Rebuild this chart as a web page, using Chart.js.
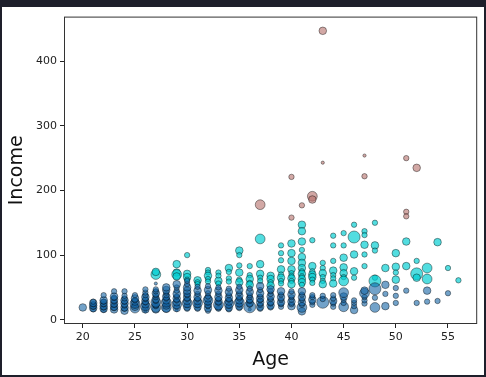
<!DOCTYPE html>
<html>
<head>
<meta charset="utf-8">
<script src="https://cdn.jsdelivr.net/npm/chart.js@4.4.1/dist/chart.umd.min.js"></script>
<style>
  html, body { margin: 0; padding: 0; background: #1e1f2b; }
  .frame { position: absolute; left: 2px; top: 7px; width: 482px; height: 368px; background: #fff; }
</style>
</head>
<body>
<div class="frame"><canvas id="chart" width="482" height="368"></canvas></div>
<script>
const ageTicks = [20, 25, 30, 35, 40, 45, 50, 55];
const incomeTicks = [0, 100, 200, 300, 400];

// each point: [age, income, edu]
const lowIncome = [
  [20,19,3],
  [21,16,2],[21,18,3],[21,20,2],[21,22,3],[21,24,2],[21,26,3],[21,28,2],
  [22,15,2],[22,17,3],[22,19,2],[22,21,3],[22,24,2],[22,26,3],[22,28,2],[22,30,3],[22,38,2],
  [23,16,3],[23,18,2],[23,20,3],[23,23,2],[23,25,3],[23,28,2],[23,31,3],[23,34,2],[23,36,3],[23,44,2],
  [24,14,3],[24,17,2],[24,19,3],[24,22,2],[24,25,3],[24,28,2],[24,30,3],[24,33,2],[24,37,2],[24,44,2],
  [25,18,4],[25,20,3],[25,23,2],[25,25,4],[25,28,3],[25,30,2],[25,33,3],[25,38,2],
  [26,13,1],[26,16,3],[26,19,2],[26,21,4],[26,24,3],[26,27,2],[26,29,3],[26,32,2],[26,35,3],[26,38,2],[26,42,2],[26,47,2],
  [27,16,3],[27,19,4],[27,21,2],[27,24,3],[27,27,4],[27,29,2],[27,32,3],[27,35,2],[27,38,2],[27,41,3],[27,44,2],[27,47,2],[27,56,1],
  [28,17,3],[28,19,4],[28,22,3],[28,25,2],[28,27,4],[28,30,3],[28,33,2],[28,36,3],[28,38,2],[28,42,2],[28,46,3],[28,50,3],
  [29,15,1],[29,18,3],[29,21,2],[29,24,4],[29,27,3],[29,30,2],[29,33,3],[29,36,2],[29,40,3],[29,45,2],[29,50,2],[29,55,3],
  [30,17,2],[30,20,3],[30,23,2],[30,26,4],[30,29,3],[30,32,2],[30,35,3],[30,38,2],[30,41,3],[30,45,3],[30,50,3],[30,55,2],[30,60,2],
  [31,17,2],[31,20,3],[31,23,2],[31,26,4],[31,29,3],[31,32,2],[31,35,3],[31,40,2],[31,45,3],[31,51,2],
  [32,14,2],[32,18,3],[32,21,2],[32,24,3],[32,27,2],[32,30,4],[32,33,3],[32,36,2],[32,41,2],[32,46,3],[32,52,2],
  [33,17,2],[33,20,3],[33,23,4],[33,26,2],[33,29,3],[33,32,2],[33,35,3],[33,40,2],[33,45,3],[33,50,2],
  [34,16,2],[34,19,3],[34,22,2],[34,25,4],[34,28,3],[34,31,2],[34,34,3],[34,38,2],[34,43,3],[34,48,2],
  [35,18,2],[35,21,3],[35,24,2],[35,27,4],[35,30,3],[35,33,2],[35,37,3],[35,41,2],[35,46,3],[35,51,2],
  [36,16,1],[36,20,5],[36,23,2],[36,26,3],[36,29,2],[36,32,3],[36,35,2],[36,38,2],[36,43,3],[36,48,2],
  [37,17,2],[37,20,3],[37,23,2],[37,27,3],[37,30,2],[37,33,3],[37,36,2],[37,41,3],[37,46,2],[37,52,3],
  [38,19,2],[38,22,3],[38,25,2],[38,28,3],[38,32,2],[38,36,3],[38,40,2],[38,44,2],[38,47,3],
  [39,20,2],[39,24,2],[39,27,3],[39,31,2],[39,35,3],[39,39,2],[39,44,3],
  [40,21,3],[40,24,2],[40,28,3],[40,31,2],[40,35,2],[40,39,3],[40,44,2],
  [41,13,3],[41,19,4],[41,23,2],[41,27,3],[41,31,2],[41,35,3],[41,39,2],[41,44,3],
  [42,23,2],[42,27,2],[42,31,3],[42,35,2],[42,38,2],
  [43,27,5],[43,32,2],[43,37,2],
  [44,20,2],[44,25,2],[44,29,3],[44,33,2],[44,38,2],
  [45,20,4],[45,26,2],[45,31,2],[45,36,3],[45,42,4],
  [46,15,3],[46,21,2],[46,26,2],[46,30,2],
  [47,25,2],[47,30,2],[47,35,2],[47,41,4],[47,45,3],
  [48,19,4],[48,34,2],[48,48,5],
  [49,21,3],[49,40,2],[49,54,3],
  [50,26,2],[50,37,2],[50,49,2],
  [51,45,2],
  [52,26,2],
  [53,28,2],[53,45,3],
  [54,29,2],
  [55,41,2]
];

const midIncome = [
  [27,70,4],[27,74,3],
  [29,86,3],[29,73,3],[29,70,4],[29,67,3],
  [30,100,2],[30,71,3],[30,66,3],[30,62,2],
  [31,61,3],[31,58,2],[31,55,2],
  [32,77,2],[32,73,2],[32,68,3],[32,63,2],[32,59,2],
  [33,73,2],[33,68,2],[33,60,3],[33,56,2],
  [34,80,3],[34,74,2],[34,64,2],[34,59,2],
  [35,107,3],[35,100,2],[35,84,2],[35,73,3],[35,62,2],[35,58,3],
  [36,83,2],[36,69,2],[36,63,3],[36,57,2],[36,54,3],
  [37,125,4],[37,86,3],[37,71,3],[37,65,2],[37,60,2],
  [38,68,3],[38,63,3],[38,58,2],[38,53,3],
  [39,115,2],[39,103,2],[39,92,2],[39,78,3],[39,70,2],[39,65,3],[39,60,2],[39,56,2],
  [40,118,3],[40,103,3],[40,91,3],[40,78,3],[40,72,2],[40,68,2],[40,64,3],[40,60,2],[40,55,3],
  [41,147,3],[41,137,3],[41,121,3],[41,108,2],[41,97,3],[41,88,3],[41,80,3],[41,75,2],[41,71,3],[41,67,2],[41,63,3],[41,58,3],[41,54,2],
  [42,123,2],[42,83,3],[42,75,2],[42,70,3],[42,66,3],[42,62,2],[42,57,2],
  [43,88,2],[43,80,2],[43,72,3],[43,66,2],[43,60,2],[43,55,3],
  [44,130,2],[44,115,2],[44,91,2],[44,76,3],[44,69,2],[44,64,2],[44,56,3],
  [45,134,2],[45,115,2],[45,96,3],[45,81,3],[45,72,3],[45,66,2],[45,60,4],
  [46,147,2],[46,128,5],[46,101,3],[46,75,3],[46,65,2],
  [47,137,2],[47,131,2],[47,116,3],[47,101,2],[47,83,2],
  [48,150,2],[48,115,3],[48,107,2],[48,65,2],[48,60,5],
  [49,80,3],
  [50,103,3],[50,82,3],[50,73,2],[50,62,3],
  [51,121,3],[51,83,3],
  [52,91,2],[52,71,5],[52,65,3],
  [53,80,4],[53,63,4],
  [54,120,3],
  [55,80,2],
  [56,61,2]
];

const highIncome = [
  [43,447,3],[43,243,1],[47,254,1],[51,250,2],[52,235,3],
  [40,221,2],[47,222,2],[42,191,4],[42,186,3],[41,177,2],
  [37,178,4],[40,158,2],[51,167,2],[51,160,2]
];

const radiusFor = edu => 1.1 * edu + 0.5;
const toPoints = list => list.map(([x, y, e]) => ({ x, y, r: radiusFor(e) }));

const framePlugin = {
  id: 'frame',
  afterDraw(chart) {
    const { ctx, chartArea: a } = chart;
    ctx.save();
    ctx.strokeStyle = '#333';
    ctx.lineWidth = 1;
    ctx.strokeRect(a.left + 0.5, a.top + 0.5, a.right - a.left - 1, a.bottom - a.top - 1);
    ctx.restore();
  }
};

const tickFont = { family: "'DejaVu Sans', sans-serif", size: 11 };
const edge = 'rgba(0,0,0,0.5)';

new Chart(document.getElementById('chart'), {
  type: 'bubble',
  data: {
    datasets: [
      { data: toPoints(lowIncome), backgroundColor: 'rgba(20,100,165,0.6)', borderColor: edge, borderWidth: 0.8 },
      { data: toPoints(midIncome), backgroundColor: 'rgba(0,205,210,0.68)', borderColor: edge, borderWidth: 0.8 },
      { data: toPoints(highIncome), backgroundColor: 'rgba(180,110,105,0.6)', borderColor: edge, borderWidth: 0.8 }
    ]
  },
  plugins: [framePlugin],
  options: {
    responsive: false,
    animation: false,
    layout: { padding: { left: 0, top: 7, right: 6, bottom: 0 } },
    plugins: { legend: { display: false }, tooltip: { enabled: false } },
    scales: {
      x: {
        type: 'linear', min: 18.2, max: 57.8,
        afterBuildTicks: axis => { axis.ticks = ageTicks.map(v => ({ value: v })); },
        afterFit: axis => { axis.height = 51; },
        grid: { drawOnChartArea: false, drawTicks: true, tickLength: 4, color: '#222' },
        border: { display: false },
        ticks: { color: '#222', font: tickFont, padding: 3, maxRotation: 0 },
        title: { display: true, text: 'Age', color: '#111', font: { family: "'DejaVu Sans', sans-serif", size: 19 }, padding: { top: 2 } }
      },
      y: {
        type: 'linear', min: -6.6, max: 469,
        afterBuildTicks: axis => { axis.ticks = incomeTicks.map(v => ({ value: v })); },
        afterFit: axis => { axis.width = 62; },
        grid: { drawOnChartArea: false, drawTicks: true, tickLength: 4, color: '#222' },
        border: { display: false },
        ticks: { color: '#222', font: tickFont, padding: 3 },
        title: { display: true, text: 'Income', color: '#111', font: { family: "'DejaVu Sans', sans-serif", size: 19 }, padding: { bottom: 2 } }
      }
    }
  }
});
</script>
</body>
</html>
